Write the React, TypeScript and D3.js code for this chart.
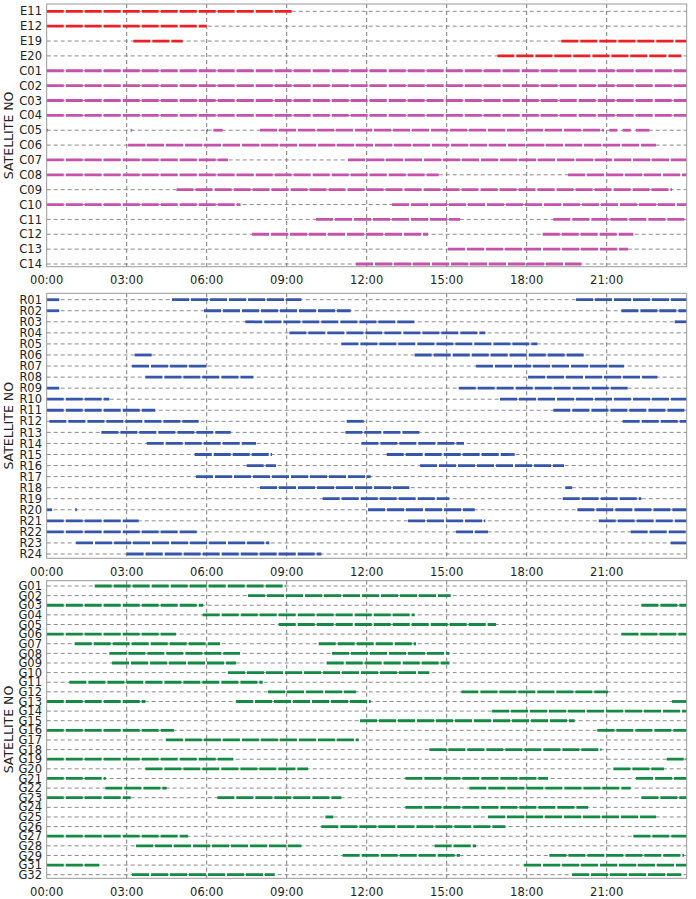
import React from 'react';
import * as d3 from 'd3';

// visibility windows per satellite, [start, end] in hours of the day
const galileoSats = ['E11', 'E12', 'E19', 'E20'];
const galileoPasses = [
  [[0, 9.25]],
  [[0, 6.0]],
  [[3.25, 5.1], [19.3, 24]],
  [[16.9, 23.8]],
];

const beidouSats = ['C01', 'C02', 'C03', 'C04', 'C05', 'C06', 'C07', 'C08', 'C09', 'C10', 'C11', 'C12', 'C13', 'C14'];
const beidouPasses = [
  [[0, 24]],
  [[0, 24]],
  [[0, 24]],
  [[0, 24]],
  [[0, 0.05], [3.15, 3.2], [6.0, 6.05], [6.25, 6.6], [8.0, 20.9], [21.1, 21.4], [21.6, 21.9], [22.1, 22.6]],
  [[3.05, 22.85]],
  [[0, 6.8], [11.3, 24]],
  [[0, 14.7], [19.55, 24]],
  [[4.87, 23.45]],
  [[0, 7.27], [12.95, 24]],
  [[10.1, 15.5], [19.0, 24]],
  [[7.7, 14.3], [18.6, 22.0]],
  [[15.05, 21.8]],
  [[11.6, 20.05]],
];

const glonassSats = ['R01', 'R02', 'R03', 'R04', 'R05', 'R06', 'R07', 'R08', 'R09', 'R10', 'R11', 'R12',
  'R13', 'R14', 'R15', 'R16', 'R17', 'R18', 'R19', 'R20', 'R21', 'R22', 'R23', 'R24'];
const glonassPasses = [
  [[0, 0.47], [4.7, 9.55], [19.85, 24]],
  [[0, 0.47], [5.9, 11.4], [21.55, 24]],
  [[7.45, 13.8], [23.55, 24]],
  [[9.1, 16.45]],
  [[11.05, 18.4]],
  [[3.3, 3.95], [13.8, 20.15]],
  [[3.2, 6.0], [16.1, 21.65]],
  [[3.7, 7.75], [18.05, 22.9]],
  [[0, 0.47], [15.45, 21.8]],
  [[0, 2.35], [17.0, 24]],
  [[0, 4.07], [19.0, 24]],
  [[0.1, 5.7], [11.25, 11.95], [21.6, 24]],
  [[2.05, 6.9], [11.2, 14.0]],
  [[3.75, 7.85], [11.8, 15.65]],
  [[5.55, 8.45], [12.75, 17.55]],
  [[7.5, 8.6], [14.0, 19.4]],
  [[5.6, 12.15]],
  [[8.0, 13.6], [19.45, 19.7]],
  [[10.35, 15.1], [19.35, 22.3]],
  [[0, 0.2], [1.07, 1.13], [12.05, 16.05], [19.9, 24]],
  [[0, 3.45], [13.55, 16.45], [20.7, 24]],
  [[0, 5.7], [15.35, 16.55], [21.9, 24]],
  [[1.1, 8.35], [23.4, 24]],
  [[3.0, 10.3]],
];

const gpsSats = ['G01', 'G02', 'G03', 'G04', 'G05', 'G06', 'G07', 'G08', 'G09', 'G10', 'G11', 'G12', 'G13',
  'G14', 'G15', 'G16', 'G17', 'G18', 'G19', 'G20', 'G21', 'G22', 'G23', 'G24', 'G25', 'G26', 'G27', 'G28',
  'G29', 'G31', 'G32'];
const gpsPasses = [
  [[1.8, 8.95]],
  [[7.55, 15.15]],
  [[0, 5.87], [22.3, 24]],
  [[5.85, 13.8]],
  [[8.7, 16.85]],
  [[0, 4.85], [21.55, 24]],
  [[1.05, 6.5], [10.2, 13.85]],
  [[2.35, 7.25], [10.7, 15.1]],
  [[2.45, 7.1], [10.5, 15.1]],
  [[6.8, 14.35]],
  [[0.85, 8.1]],
  [[8.3, 11.6], [15.55, 21.05]],
  [[0, 3.7], [7.1, 12.15], [23.45, 24]],
  [[16.7, 24]],
  [[11.75, 19.8]],
  [[0, 4.77], [20.65, 24]],
  [[4.47, 11.7]],
  [[14.35, 20.8]],
  [[0, 7.0], [23.25, 24]],
  [[3.7, 9.8], [21.25, 23.15]],
  [[0, 2.22], [13.45, 18.8], [22.1, 24]],
  [[2.2, 4.5], [15.85, 21.9]],
  [[0, 3.15], [6.4, 11.05], [22.3, 24]],
  [[13.45, 20.3]],
  [[10.45, 10.75], [16.55, 22.85]],
  [[10.3, 17.2]],
  [[0, 5.3], [22.0, 24]],
  [[3.35, 9.55], [14.55, 16.1]],
  [[11.1, 15.5], [18.85, 23.9]],
  [[0, 1.97], [17.9, 24]],
  [[3.2, 8.55], [19.7, 23.8]],
];

const hourTicks = [0, 3, 6, 9, 12, 15, 18, 21];
const tickLabels = ['00:00', '03:00', '06:00', '09:00', '12:00', '15:00', '18:00', '21:00'];
const axisTitle = 'SATELLITE NO';

const FONT = '"DejaVu Sans", Verdana, sans-serif';
const W = 696;
const H = 899;
const left = 46.7;
const right = 686.7;

const panels = [
  {
    top: 4, bottom: 266.7, rows: [11.3, 264],
    groups: [
      { sats: galileoSats, passes: galileoPasses, color: '#ec2127' },
      { sats: beidouSats, passes: beidouPasses, color: '#c553ab' },
    ],
  },
  {
    top: 293.3, bottom: 558.3, rows: [299.7, 554],
    groups: [{ sats: glonassSats, passes: glonassPasses, color: '#3656ab' }],
  },
  {
    top: 580.7, bottom: 878.3, rows: [586, 874.7],
    groups: [{ sats: gpsSats, passes: gpsPasses, color: '#148a45' }],
  },
];

const x = d3.scaleLinear().domain([0, 24]).range([left, right]);

const Panel = ({ p }: { p: any }) => {
  const names = p.groups.flatMap((g: any) => g.sats);
  const y = d3.scalePoint<string>().domain(names).range(p.rows);
  const cy = (p.top + p.bottom) / 2;

  return (
    <g>
      {/* horizontal grid, one per satellite */}
      {names.map((n: string) => (
        <line key={'h' + n} x1={left} x2={right} y1={y(n)} y2={y(n)}
          stroke="#8c8c8c" strokeWidth={1} strokeDasharray="4 3" />
      ))}
      {/* vertical grid */}
      {hourTicks.slice(1).map((t) => (
        <line key={'v' + t} x1={x(t)} x2={x(t)} y1={p.top} y2={p.bottom}
          stroke="#7a7a7a" strokeWidth={1} strokeDasharray="4 3" />
      ))}
      {/* visibility bars */}
      {p.groups.map((g: any) =>
        g.sats.map((s: string, i: number) =>
          g.passes[i].map((seg: number[], j: number) => (
            <line key={s + j} x1={x(seg[0])} x2={x(seg[1])} y1={y(s)} y2={y(s)}
              stroke={g.color} strokeWidth={2.8} strokeDasharray="17 2" />
          ))
        )
      )}
      <rect x={left} y={p.top} width={right - left} height={p.bottom - p.top}
        fill="none" stroke="#9a9a9a" strokeWidth={1} />
      {/* satellite labels */}
      {names.map((n: string) => (
        <text key={'t' + n} x={42} y={y(n)} dy="0.36em" textAnchor="end"
          fontSize={11.5} fontFamily={FONT} fill="#222">{n}</text>
      ))}
      {hourTicks.map((t, i) => (
        <text key={'x' + t} x={x(t)} y={p.bottom + 17.5} textAnchor="middle"
          fontSize={11.5} fontFamily={FONT} fill="#222">{tickLabels[i]}</text>
      ))}
      <text transform={`translate(13,${cy}) rotate(-90)`} textAnchor="middle"
        fontSize={12.5} fontFamily={FONT} fill="#222">{axisTitle}</text>
    </g>
  );
};

export default function App() {
  return (
    <svg width={W} height={H} style={{ position: 'absolute', left: 0, top: 0, background: '#fff' }}>
      {panels.map((p, i) => <Panel key={i} p={p} />)}
    </svg>
  );
}
